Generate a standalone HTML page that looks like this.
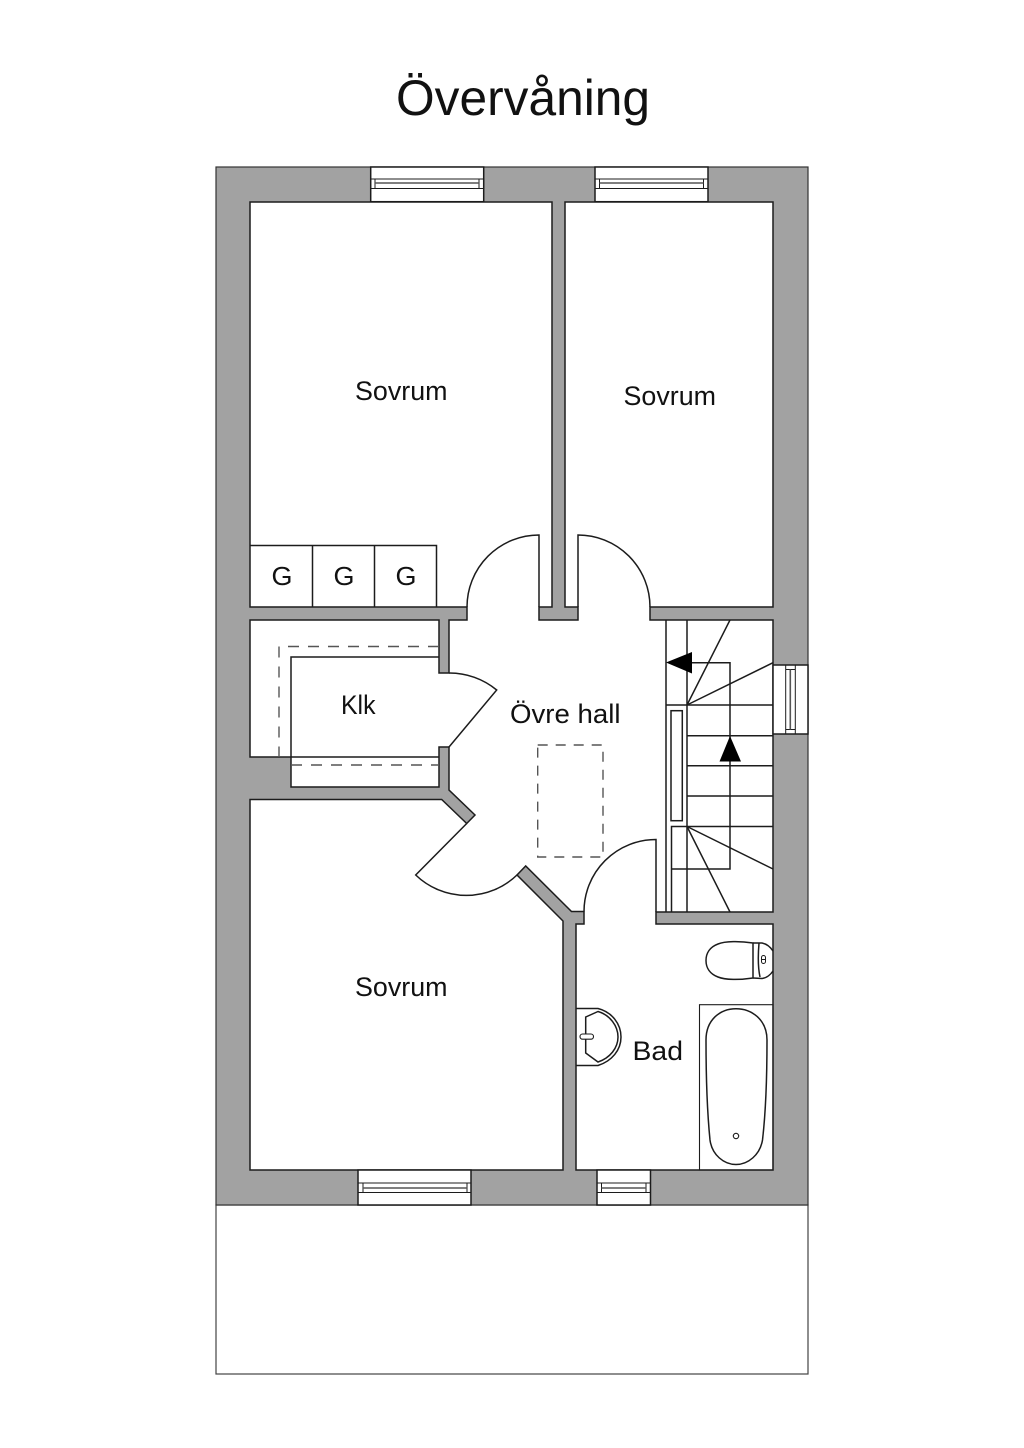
<!DOCTYPE html>
<html lang="sv">
<head>
<meta charset="utf-8">
<title>Övervåning</title>
<style>
html,body{margin:0;padding:0;background:#fff;width:1024px;height:1448px;overflow:hidden}
svg{display:block}
text{font-family:"Liberation Sans","DejaVu Sans",sans-serif;fill:#111}
.l{fill:none;stroke:#1c1c1c;stroke-width:1.5}
.w{fill:#fff;stroke:#1c1c1c;stroke-width:1.5}
.d{fill:none;stroke:#555;stroke-width:1.4;stroke-dasharray:11 9}
</style>
</head>
<body>
<svg width="1024" height="1448" viewBox="0 0 1024 1448" xmlns="http://www.w3.org/2000/svg">
<rect width="1024" height="1448" fill="#fff"/>
<text x="396" y="115" font-size="50" textLength="254" lengthAdjust="spacingAndGlyphs">Övervåning</text>

<!-- garden -->
<rect x="216" y="1205" width="592" height="169" fill="#fff" stroke="#444" stroke-width="1.2"/>
<!-- walls -->
<rect x="216" y="167" width="592" height="1038" fill="#a2a2a2" stroke="#333" stroke-width="1.2"/>

<!-- rooms -->
<path class="w" d="M250,202 H552 V607 H539 V620 H578 V607 H565 V202 H773 V607 H650 V620 H773 V912 H656 V924 H773 V1170 H576 V924 H584 V911.5 H571.5 L525.7,866 L517,875 L563,921 V1170 H250 V799.5 H441.7 L466.7,823.5 L475,815 L449,790 V747 H439 V787 H291 V757 H250 V620 H439 V673 H449 V620 H467 V607 H250 Z"/>
<!-- closet lines -->
<path class="l" d="M291,757 V657 H439 M291,757 H439"/>
<path class="d" d="M439,646.5 H279 V757"/>
<path class="d" d="M291,765 H439"/>
<!-- wardrobes -->
<path class="l" d="M250,545.5 H436.5 V607 M312.5,545.5 V607 M374.5,545.5 V607"/>
<text x="271.5" y="585" font-size="26" textLength="21" lengthAdjust="spacingAndGlyphs">G</text>
<text x="333.5" y="585" font-size="26" textLength="21" lengthAdjust="spacingAndGlyphs">G</text>
<text x="395.5" y="585" font-size="26" textLength="21" lengthAdjust="spacingAndGlyphs">G</text>

<!-- doors -->
<path class="l" d="M467,607 A72,72 0 0 1 539,535 V607"/>
<path class="l" d="M650,607 A72,72 0 0 0 578,535 V607"/>
<path class="l" d="M449,673 A74,74 0 0 1 496.7,690 L449,747"/>
<path class="l" d="M584,911.5 A72,72 0 0 1 656,839.5 V912"/>
<path class="l" d="M466.7,823.5 L415.7,875 A73,73 0 0 0 517,875"/>

<!-- hatch -->
<rect class="d" x="537.7" y="745" width="65.3" height="112" style="stroke-dasharray:10 8"/>

<!-- stairs -->
<path class="l" d="M666,620 V912 M687,620 V912 M666,705 H773 M687,735.7 H773 M687,765.7 H773 M687,796 H773"/>
<rect class="l" x="671" y="710.7" width="11.3" height="110"/>
<path class="l" d="M671.5,912 V826.5 H773 M671.5,869 H730 V662.7 H687"/>
<path class="l" d="M687,705 L730,620 M687,705 L773,662.7 M687,826.5 L773,869 M687,826.5 L730,912"/>
<path fill="#000" d="M666,662.5 L692,652 V673.5 Z"/>
<path fill="#000" d="M730,736 L741,761.5 H719.5 Z"/>

<!-- windows -->
<g>
<rect class="w" x="370.7" y="167" width="113" height="34.7"/>
<path class="l" d="M370.7,179 H483.7 V188.5 H370.7 Z M375,179 V188.5 M479,179 V188.5" style="stroke-width:1"/>
<path class="l" d="M375,183 H479" style="stroke:#555;stroke-width:1.6"/>

<rect class="w" x="595" y="167" width="113" height="34.7"/>
<path class="l" d="M595,179 H708 V188.5 H595 Z M599.5,179 V188.5 M703.5,179 V188.5" style="stroke-width:1"/>
<path class="l" d="M599.5,183 H703.5" style="stroke:#555;stroke-width:1.6"/>

<rect class="w" x="358" y="1170" width="113" height="35"/>
<path class="l" d="M358,1183 H471 V1192.5 H358 Z M363,1183 V1192.5 M467,1183 V1192.5" style="stroke-width:1"/>
<path class="l" d="M363,1188 H467" style="stroke:#555;stroke-width:1.6"/>

<rect class="w" x="597" y="1170" width="53.5" height="35"/>
<path class="l" d="M597,1183 H650.5 V1192.5 H597 Z M601.5,1183 V1192.5 M646,1183 V1192.5" style="stroke-width:1"/>
<path class="l" d="M601.5,1188 H646" style="stroke:#555;stroke-width:1.6"/>

<rect class="w" x="773" y="665" width="35" height="69"/>
<path class="l" d="M785.7,665 V734 H795.3 V665 Z M785.7,669.5 H795.3 M785.7,729.5 H795.3" style="stroke-width:1"/>
<path class="l" d="M790.3,669.5 V729.5" style="stroke:#555;stroke-width:1.6"/>
</g>

<!-- bath -->
<rect class="l" x="699.5" y="1004.7" width="73.5" height="165.3" style="stroke-width:1.1"/>
<path class="l" d="M706,1040 C706,1020 720,1008.7 736,1008.7 C752,1008.7 767,1020 767,1040 C767,1080 766,1110 762.5,1140 C760,1155 748,1164.5 736,1164.5 C724,1164.5 712,1155 710,1140 C707,1110 706,1080 706,1040 Z"/>
<circle class="l" cx="736" cy="1136" r="2.7" style="stroke-width:1.1"/>

<!-- toilet -->
<path class="l" d="M753,943 C740,941 725,941 718,944 C710,947 706,953 706,960.5 C706,968 710,974 718,977 C725,980 740,980 753,978 Z"/>
<path class="l" d="M753,943 L762,943 C767,944 771,948 773,951 M753,978 L762,978.5 C767,978 771,974 773,971 M759,943 C758,955 758,968 760,977"/>
<rect class="l" x="761.5" y="955.5" width="4" height="8" rx="2" style="stroke-width:1"/>
<path class="l" d="M761.5,959.5 H765.5" style="stroke-width:1"/>

<!-- basin -->
<path class="l" d="M576,1008.5 H598 C612,1012 621,1024 621,1037 C621,1050 612,1061 598,1065.5 H576"/>
<path class="l" d="M585.7,1017 L598,1011.5 C610,1015 618,1026 618,1037 C618,1048 610,1058 598,1062 L585.7,1053 Z"/>
<rect class="w" x="580" y="1034" width="13.5" height="5.2" rx="2.6" style="stroke-width:1.1"/>

<!-- labels -->
<text x="355" y="400" font-size="27" textLength="92.5" lengthAdjust="spacingAndGlyphs">Sovrum</text>
<text x="623.5" y="405" font-size="27" textLength="92.5" lengthAdjust="spacingAndGlyphs">Sovrum</text>
<text x="355" y="996" font-size="27" textLength="92.5" lengthAdjust="spacingAndGlyphs">Sovrum</text>
<text x="341" y="714" font-size="27" textLength="34.5" lengthAdjust="spacingAndGlyphs">Klk</text>
<text x="510" y="723" font-size="27" textLength="110.5" lengthAdjust="spacingAndGlyphs">Övre hall</text>
<text x="632.5" y="1060" font-size="27" textLength="50.5" lengthAdjust="spacingAndGlyphs">Bad</text>
</svg>
</body>
</html>
